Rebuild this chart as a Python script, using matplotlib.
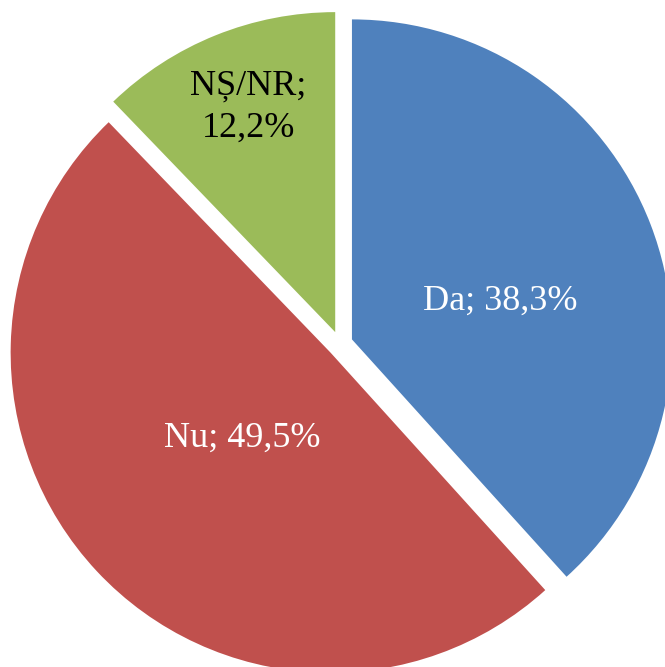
import numpy as np
import matplotlib
matplotlib.use('Agg')
import matplotlib.pyplot as plt

categories = ['Da', 'Nu', 'NȘ/NR']
values = [38.3, 49.5, 12.2]
label_text = ['Da; 38,3%', 'Nu; 49,5%', 'NȘ/NR;\n12,2%']
colors = ['#4F81BD', '#C0504D', '#9BBB59']
text_colors = ['white', 'white', 'black']

# label placement: distance from wedge tip and angle tweak (deg)
label_r = [0.478, 0.386, 0.754]
label_dtheta = [-6.7, 1.0, -0.85]

plt.rcParams['font.family'] = ['Liberation Serif', 'DejaVu Serif']

fig = plt.figure(figsize=(6.65, 6.67), dpi=100)
ax = fig.add_axes([0, 0, 1, 1])

wedges, _ = ax.pie(values, colors=colors, startangle=90, counterclock=False,
                   explode=[0.04] * 3, radius=1.0,
                   wedgeprops=dict(linewidth=0))

for w, txt, tc, r, dt in zip(wedges, label_text, text_colors, label_r, label_dtheta):
    mid = np.deg2rad((w.theta1 + w.theta2) / 2 + dt)
    cx, cy = w.center
    ax.text(cx + r * np.cos(mid), cy + r * np.sin(mid), txt, color=tc,
            fontsize=26, ha='center', va='center', linespacing=1.35)

ax.set_xlim(-340 / 320, 325 / 320)
ax.set_ylim(-323 / 320, 344 / 320)
ax.set_aspect('auto')
ax.axis('off')

fig.savefig('out.png', dpi=100)
